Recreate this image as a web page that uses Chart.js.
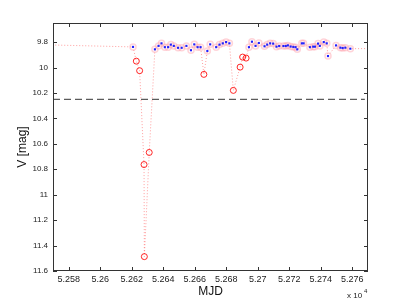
<!DOCTYPE html>
<html lang="en">
<head>
    <meta charset="UTF-8">
    <title>V light curve</title>
    <script src="https://cdn.jsdelivr.net/npm/chart.js@4.4.1/dist/chart.umd.min.js"></script>
</head>
<style>
    body {
        margin: 0;
        background: #fff;
        font-family: "Liberation Sans", Arial, Helvetica, sans-serif;
    }
</style>
<body>
    <canvas id="lightCurve" width="407" height="306"></canvas>

    <script>
        // normal-state observations (blue dots); first and last lie outside the plotted range
        const brightMjd = [52560, 52620.8, 52634.7, 52637.0, 52638.9, 52641.0, 52643.1, 52644.8, 52646.7,
            52649.4, 52651.7, 52654.7, 52657.6, 52659.7, 52661.8, 52663.7, 52668.0, 52669.8, 52673.6,
            52675.7, 52677.8, 52679.9, 52682.0, 52694.4, 52696.3, 52698.6, 52700.7, 52704.3, 52706.0,
            52707.9, 52709.8, 52711.9, 52713.6, 52716.3, 52717.8, 52719.1, 52720.9, 52722.6, 52724.0,
            52725.1, 52728.0, 52729.1, 52733.1, 52735.2, 52736.3, 52738.3, 52739.4, 52741.9, 52743.8,
            52744.6, 52749.7, 52752.5, 52753.9, 52755.6, 52758.8, 52780]
        const brightMag = [9.82, 9.838, 9.857, 9.83, 9.81, 9.84, 9.84, 9.82, 9.83,
            9.845, 9.845, 9.83, 9.864, 9.818, 9.84, 9.84, 9.87, 9.818, 9.84,
            9.82, 9.81, 9.80, 9.81, 9.84, 9.797, 9.83, 9.807, 9.833, 9.82,
            9.81, 9.812, 9.836, 9.831, 9.831, 9.831, 9.826, 9.835, 9.838, 9.84,
            9.857, 9.81, 9.81, 9.84, 9.836, 9.836, 9.812, 9.83, 9.80, 9.81,
            9.91, 9.826, 9.844, 9.847, 9.844, 9.852, 9.85]

        // faded observations (red circles)
        const fadedMjd = [52622.9, 52625.0, 52627.8, 52628.0, 52631.1, 52665.8, 52684.5, 52688.8, 52690.4, 52692.6]
        const fadedMag = [9.95, 10.025, 10.763, 11.487, 10.668, 10.054, 10.18, 9.997, 9.918, 9.926]

        const thresholdMag = 10.25
        const xTicks = [52580, 52600, 52620, 52640, 52660, 52680, 52700, 52720, 52740, 52760]
        const yTicks = [9.8, 10, 10.2, 10.4, 10.6, 10.8, 11, 11.2, 11.4, 11.6]

        const bright = brightMjd.map((x, i) => ({ x: x, y: brightMag[i], faded: false }))
        const faded = fadedMjd.map((x, i) => ({ x: x, y: fadedMag[i], faded: true }))
        const all = bright.concat(faded).sort((a, b) => a.x - b.x)

        const boxPlugin = {
            id: 'box',
            afterDatasetsDraw(chart) {
                const { ctx, chartArea: a, scales } = chart
                ctx.save()
                ctx.strokeStyle = '#333'
                ctx.lineWidth = 1
                ctx.beginPath()
                xTicks.forEach(v => {
                    const px = Math.round(scales.x.getPixelForValue(v)) + 0.5
                    ctx.moveTo(px, a.bottom); ctx.lineTo(px, a.bottom - 4)
                    ctx.moveTo(px, a.top); ctx.lineTo(px, a.top + 4)
                })
                yTicks.forEach(v => {
                    const py = Math.round(scales.y.getPixelForValue(v)) + 0.5
                    ctx.moveTo(a.left, py); ctx.lineTo(a.left + 4, py)
                    ctx.moveTo(a.right, py); ctx.lineTo(a.right - 4, py)
                })
                ctx.stroke()
                ctx.strokeRect(a.left + 0.5, a.top + 0.5, a.right - a.left - 1, a.bottom - a.top - 1)

                ctx.fillStyle = '#222'
                ctx.textBaseline = 'alphabetic'
                ctx.font = '8px "Liberation Sans", Arial, sans-serif'
                ctx.fillText('x 10', 347, 298)
                ctx.font = '6px "Liberation Sans", Arial, sans-serif'
                ctx.fillText('4', 364, 293)
                ctx.restore()
            }
        }

        const chart = new Chart('lightCurve', {
            type: 'scatter',
            data: {
                datasets: [{
                    label: 'normal',
                    data: bright,
                    pointStyle: 'rect',
                    pointRadius: 1.5,
                    pointBorderWidth: 0,
                    pointBackgroundColor: '#2020ff',
                    showLine: false
                }, {
                    label: 'all',
                    data: all,
                    showLine: true,
                    borderColor: 'rgba(255, 80, 80, 0.55)',
                    borderWidth: 1,
                    borderDash: [1, 2],
                    pointRadius: 3,
                    pointBackgroundColor: 'rgba(0,0,0,0)',
                    pointBorderColor: ctx => ctx.raw && ctx.raw.faded ? 'rgba(255, 0, 0, 0.85)' : 'rgba(255, 160, 170, 0.45)',
                    pointBorderWidth: ctx => ctx.raw && ctx.raw.faded ? 1 : 1.5
                }, {
                    label: 'threshold',
                    data: [{ x: 52570, y: thresholdMag }, { x: 52768, y: thresholdMag }],
                    showLine: true,
                    borderColor: '#333',
                    borderWidth: 1,
                    borderDash: [7, 4],
                    pointRadius: 0
                }]
            },
            options: {
                responsive: false,
                animation: false,
                events: [],
                layout: { padding: { top: 23, right: 39, left: 0, bottom: 0 } },
                plugins: {
                    legend: { display: false },
                    tooltip: { enabled: false }
                },
                scales: {
                    x: {
                        type: 'linear',
                        min: 52570,
                        max: 52770,
                        grid: { display: false, drawTicks: false },
                        border: { display: false },
                        afterBuildTicks: s => { s.ticks = xTicks.map(v => ({ value: v })) },
                        afterFit: s => { s.height = 35 },
                        ticks: {
                            padding: 3,
                            maxRotation: 0,
                            color: '#222',
                            font: { size: 9, family: '"Liberation Sans", Arial, sans-serif' },
                            callback: v => (v / 10000).toString()
                        },
                        title: {
                            display: true,
                            text: 'MJD',
                            color: '#111',
                            padding: { top: 0, bottom: 7 },
                            font: { size: 12, family: '"Liberation Sans", Arial, sans-serif' }
                        }
                    },
                    y: {
                        type: 'linear',
                        reverse: true,
                        min: 9.65,
                        max: 11.6,
                        grid: { display: false, drawTicks: false },
                        border: { display: false },
                        afterBuildTicks: s => { s.ticks = yTicks.map(v => ({ value: v })) },
                        afterFit: s => { s.width = 53 },
                        ticks: {
                            padding: 5,
                            color: '#222',
                            font: { size: 8, family: '"Liberation Sans", Arial, sans-serif' },
                            callback: v => v.toString()
                        },
                        title: {
                            display: true,
                            text: 'V [mag]',
                            color: '#111',
                            padding: { top: 15, bottom: 0 },
                            font: { size: 12, family: '"Liberation Sans", Arial, sans-serif' }
                        }
                    }
                }
            },
            plugins: [boxPlugin]
        })
    </script>
</body>
</html>
